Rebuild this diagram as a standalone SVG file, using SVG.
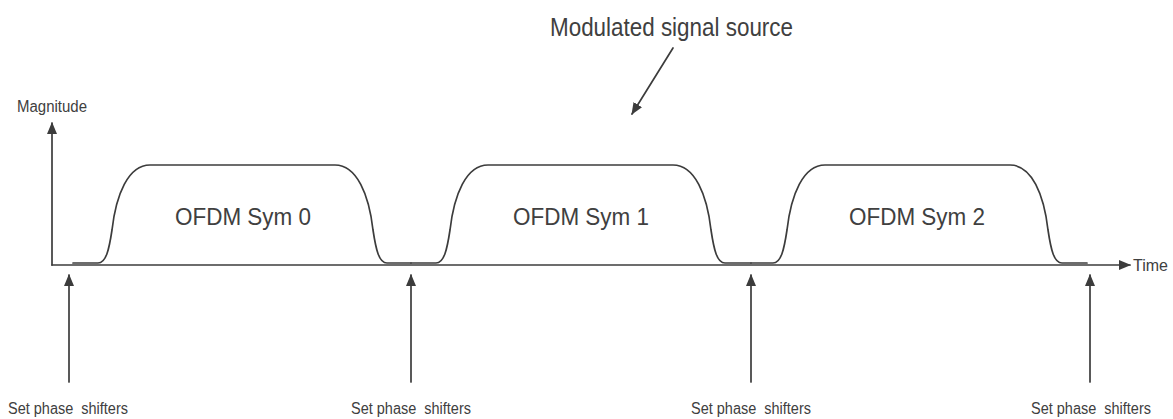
<svg xmlns="http://www.w3.org/2000/svg" width="1173" height="419" viewBox="0 0 1173 419">
<style>
.ln{fill:none;stroke:#3c3c3c;stroke-width:1.7;stroke-linecap:round;stroke-linejoin:round}
.t{font-family:"Liberation Sans",Arial,sans-serif;fill:#404040}
.sym{font-size:24px;text-anchor:middle}
.lbl{font-size:16px;text-anchor:middle}
</style>
<defs>
<marker id="ah" viewBox="0 0 12 10" refX="11" refY="5" markerWidth="12" markerHeight="10" markerUnits="userSpaceOnUse" orient="auto">
<path d="M0,0 L12,5 L0,10 Z" fill="#3c3c3c"/>
</marker>
</defs>
<rect width="1173" height="419" fill="#ffffff"/>
<g id="axes">
<line class="ln" x1="52" y1="265" x2="52" y2="123" marker-end="url(#ah)"/>
<line class="ln" x1="52" y1="265" x2="1130" y2="265" marker-end="url(#ah)"/>
<text class="t" x="17" y="112" font-size="16" textLength="70" lengthAdjust="spacingAndGlyphs">Magnitude</text>
<text class="t" x="1133" y="271" font-size="16">Time</text>
</g>
<g id="sym0">
<path class="ln" d="M73,263 L98,263 C106,263 109,250 112,230 C116,195 128,165 150,165 L335,165 C357,165 369,195 373,230 C376,250 379,263 387,263 L411,263"/>
<text class="t sym" x="243" y="225" textLength="136" lengthAdjust="spacingAndGlyphs">OFDM Sym 0</text>
</g>
<g id="sym1">
<path class="ln" d="M411,263 L436,263 C444,263 447,250 450,230 C454,195 466,165 488,165 L673,165 C695,165 707,195 711,230 C714,250 717,263 725,263 L751,263"/>
<text class="t sym" x="581" y="225" textLength="136" lengthAdjust="spacingAndGlyphs">OFDM Sym 1</text>
</g>
<g id="sym2">
<path class="ln" d="M751,263 L773,263 C781,263 784,250 787,230 C791,195 803,165 825,165 L1010,165 C1032,165 1044,195 1048,230 C1051,250 1054,263 1062,263 L1087,263"/>
<text class="t sym" x="917" y="225" textLength="136" lengthAdjust="spacingAndGlyphs">OFDM Sym 2</text>
</g>
<g id="source">
<text class="t" x="550" y="36" font-size="25" textLength="243" lengthAdjust="spacingAndGlyphs">Modulated signal source</text>
</g>
<g id="label0"><text class="t lbl" x="68" y="414" textLength="120" lengthAdjust="spacingAndGlyphs">Set phase&#160; shifters</text></g>
<g id="label1"><text class="t lbl" x="411" y="414" textLength="120" lengthAdjust="spacingAndGlyphs">Set phase&#160; shifters</text></g>
<g id="label2"><text class="t lbl" x="751" y="414" textLength="120" lengthAdjust="spacingAndGlyphs">Set phase&#160; shifters</text></g>
<g id="label3"><text class="t lbl" x="1091" y="414" textLength="120" lengthAdjust="spacingAndGlyphs">Set phase&#160; shifters</text></g>
<g id="connectors">
<line class="ln" x1="673" y1="48" x2="632" y2="114" marker-end="url(#ah)"/>
<line class="ln" x1="69" y1="382" x2="69" y2="275" marker-end="url(#ah)"/>
<line class="ln" x1="411" y1="382" x2="411" y2="275" marker-end="url(#ah)"/>
<line class="ln" x1="751" y1="382" x2="751" y2="275" marker-end="url(#ah)"/>
<line class="ln" x1="1090" y1="382" x2="1090" y2="275" marker-end="url(#ah)"/>
</g>
</svg>
